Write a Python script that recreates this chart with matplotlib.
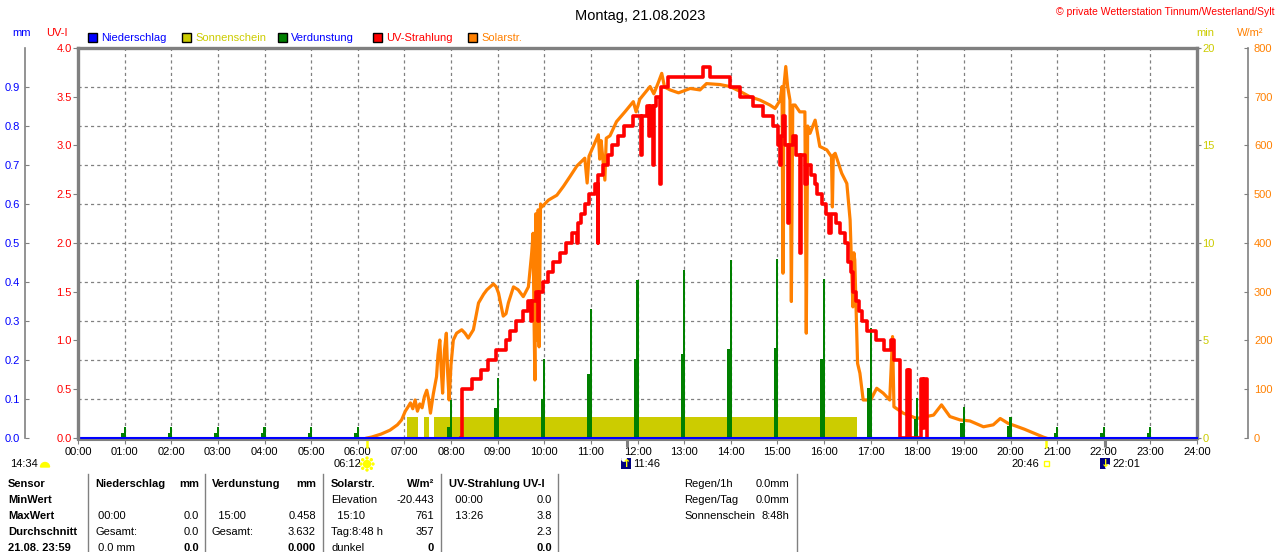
import matplotlib
matplotlib.use('Agg')
import matplotlib.pyplot as plt
from matplotlib.patches import Rectangle, Wedge, Circle
from matplotlib.transforms import Affine2D

plt.rcParams['font.family'] = ['Liberation Sans', 'DejaVu Sans']

W, H = 1280, 552

# ---------------- data ----------------
hours = list(range(25))
hour_labels = [f'{h:02d}:00' for h in hours]

mm_ticks = [0.0, 0.1, 0.2, 0.3, 0.4, 0.5, 0.6, 0.7, 0.8, 0.9]
uv_ticks = [0.0, 0.5, 1.0, 1.5, 2.0, 2.5, 3.0, 3.5, 4.0]
min_ticks = [0, 5, 10, 15, 20]
sol_ticks = [0, 100, 200, 300, 400, 500, 600, 700, 800]

# sunshine intervals (hours) and height (min)
sun_start = [7.05, 7.42, 7.64]
sun_end = [7.30, 7.53, 16.71]
sun_level = [1.08, 1.08, 1.08]

# evaporation (mm) per hour: tall thin part and wider base part
evap_hours = [1, 2, 3, 4, 5, 6, 8, 9, 10, 11, 12, 13, 14, 15, 16, 17, 18, 19, 20, 21, 22, 23]
evap_top = [0.027, 0.027, 0.027, 0.027, 0.027, 0.027, 0.097, 0.155, 0.203, 0.332, 0.405,
            0.430, 0.456, 0.458, 0.407, 0.282, 0.102, 0.079, 0.053, 0.028, 0.027, 0.027]
evap_base = [0.014, 0.014, 0.014, 0.014, 0.014, 0.014, 0.028, 0.077, 0.100, 0.164, 0.203,
             0.215, 0.228, 0.230, 0.203, 0.128, 0.050, 0.039, 0.030, 0.014, 0.014, 0.014]

# UV index (step curve)
uv_t = [8.22, 8.24, 8.46, 8.64, 8.79, 8.97, 9.17, 9.27, 9.40, 9.54, 9.65, 9.715, 9.73, 9.83,
        9.875, 9.89, 9.97, 10.08, 10.18, 10.33, 10.47, 10.59, 10.705, 10.72, 10.78, 10.88,
        10.95, 11.08, 11.145, 11.16, 11.26, 11.36, 11.46, 11.58, 11.72, 11.90, 12.075, 12.09,
        12.20, 12.255, 12.27, 12.335, 12.35, 12.40, 12.485, 12.50, 12.65, 13.41, 13.56, 13.98,
        14.20, 14.47, 14.70, 14.90, 15.01, 15.05, 15.08, 15.12, 15.17, 15.225, 15.24, 15.34,
        15.40, 15.48, 15.50, 15.60, 15.64, 15.72, 15.80, 15.86, 15.95, 16.05, 16.10, 16.14,
        16.25, 16.35, 16.45, 16.52, 16.57, 16.62, 16.68, 16.74, 16.82, 16.92, 17.12, 17.28,
        17.44, 17.50, 17.63, 17.77, 17.795, 17.82, 17.845, 18.09, 18.125, 18.15, 18.20]
uv_v = [0.0, 0.5, 0.6, 0.7, 0.8, 0.9, 1.0, 1.1, 1.2, 1.3, 1.4, 1.2, 1.4, 1.5,
        1.2, 1.5, 1.6, 1.7, 1.8, 1.9, 2.0, 2.1, 2.0, 2.2, 2.3, 2.4,
        2.5, 2.6, 2.0, 2.7, 2.8, 2.9, 3.0, 3.1, 3.2, 3.3, 2.9, 3.3,
        3.4, 3.1, 3.4, 2.8, 3.4, 3.5, 2.6, 3.6, 3.7, 3.8, 3.7, 3.6,
        3.5, 3.4, 3.3, 3.2, 3.0, 2.8, 3.1, 3.3, 3.0, 2.2, 3.0, 3.1,
        2.9, 1.9, 2.9, 2.6, 2.8, 2.7, 2.6, 2.5, 2.4, 2.3, 2.1, 2.3,
        2.2, 2.1, 2.0, 1.8, 1.7, 1.5, 1.4, 1.3, 1.2, 1.1, 1.0, 0.9,
        1.0, 0.8, 0.0, 0.7, 0.0, 0.7, 0.0, 0.6, 0.1, 0.6, 0.0]

# solar radiation (W/m2)
sol_t = [6.20, 6.30, 6.50, 6.69, 6.85, 6.94, 7.02, 7.08, 7.13, 7.18, 7.23, 7.28, 7.33, 7.38,
         7.43, 7.48, 7.52, 7.56, 7.62, 7.69, 7.72, 7.76, 7.79, 7.82, 7.86, 7.90, 7.93, 7.96,
         8.00, 8.05, 8.12, 8.23, 8.30, 8.37, 8.48, 8.59, 8.70, 8.77, 8.91, 8.97, 9.02, 9.12,
         9.18, 9.23, 9.34, 9.44, 9.55, 9.66, 9.73, 9.76, 9.78, 9.80, 9.82, 9.85, 9.87, 9.89,
         9.92, 9.95, 10.09, 10.27, 10.41, 10.55, 10.70, 10.87, 10.92, 10.96, 11.05, 11.16,
         11.19, 11.22, 11.30, 11.33, 11.41, 11.55, 11.73, 11.91, 11.97, 12.05, 12.27, 12.35,
         12.45, 12.52, 12.58, 12.70, 12.88, 13.13, 13.34, 13.48, 13.77, 13.98, 14.20, 14.41,
         14.63, 14.84, 14.95, 15.06, 15.10, 15.12, 15.14, 15.18, 15.22, 15.27, 15.30, 15.33,
         15.38, 15.48, 15.59, 15.62, 15.65, 15.70, 15.81, 15.91, 16.06, 16.16, 16.18, 16.20,
         16.24, 16.38, 16.49, 16.56, 16.62, 16.64, 16.66, 16.72, 16.77, 16.84, 17.00, 17.13,
         17.27, 17.41, 17.47, 17.50, 17.70, 17.99, 18.20, 18.35, 18.52, 18.70, 18.92, 19.13,
         19.42, 19.63, 19.78, 19.95, 20.10, 20.30, 20.50, 20.70, 20.76]
sol_v = [0, 2, 8, 16, 27, 37, 55, 64, 72, 60, 78, 55, 70, 62,
         85, 98, 80, 51, 90, 126, 170, 201, 140, 92, 180, 215, 130, 78,
         150, 201, 215, 222, 215, 205, 222, 277, 295, 304, 316, 310, 297, 250,
         255, 277, 310, 304, 290, 310, 379, 420, 250, 119, 460, 200, 468, 187,
         480, 474, 488, 498, 516, 536, 558, 574, 523, 578, 598, 622,
         572, 610, 529, 615, 620, 649, 669, 690, 669, 695, 721, 706,
         730, 748, 720, 714, 708, 717, 714, 727, 725, 721, 711, 700,
         693, 683, 676, 693, 721, 338, 721, 762, 721, 693, 280, 683,
         683, 669, 669, 215, 640, 625, 652, 598, 591, 577, 474, 580,
         584, 543, 522, 447, 269, 380, 365, 153, 133, 78, 78, 102,
         92, 78, 208, 64, 51, 40, 44, 47, 68, 44, 37, 35,
         23, 27, 40, 30, 25, 18, 10, 2, 0]

sunrise, sunset = 6.20, 20.767
moonrise, moonset = 11.767, 22.017

GREY = '#808080'
BLUE = '#0000ff'
RED = '#ff0000'
ORANGE = '#ff8000'
YELLOW = '#cccc00'
GREEN = '#008000'

fig = plt.figure(figsize=(W / 100, H / 100), dpi=100)
pix = Affine2D().scale(1 / W, -1 / H).translate(0, 1) + fig.transFigure

ax = fig.add_axes([78 / W, 1 - 438 / H, (1197 - 78) / W, (438 - 48) / H])
ax_min = ax.twinx()
ax_sol = ax.twinx()
ax_ev = ax.twinx()
ax_uv = ax.twinx()
for z, a in enumerate([ax, ax_min, ax_sol, ax_ev, ax_uv]):
    a.set_zorder(z)
    a.set_xlim(0, 24)
    for s in a.spines.values():
        s.set_visible(False)

# base axes: mm scale, grid, time axis, frame
ax.set_ylim(0, 1)
ax.set_yticks(mm_ticks)
ax.set_yticklabels([f'{v:.1f}' for v in mm_ticks])
ax.set_xticks(hours)
ax.set_xticklabels(hour_labels)
ax.grid(True, color=GREY, linestyle=(0, (2.5, 2.5)), lw=0.9)
ax.spines['top'].set_visible(True)
ax.spines['top'].set_color(GREY)
ax.spines['top'].set_linewidth(2.4)
ax.spines['bottom'].set_visible(True)
ax.spines['bottom'].set_color(GREY)
ax.spines['bottom'].set_linewidth(1.5)
ax.spines['bottom'].set_position(('outward', 1.2))
ax.spines['left'].set_visible(True)
ax.spines['left'].set_color(GREY)
ax.spines['left'].set_linewidth(1.2)
ax.spines['left'].set_position(('outward', 38))
ax.tick_params(axis='y', direction='in', length=3, color=GREY, labelcolor=BLUE,
               labelsize=8, pad=4)
ax.tick_params(axis='x', direction='out', length=3, color=GREY, labelcolor='black',
               labelsize=8, pad=2)

# sunshine (min)
ax_min.set_ylim(0, 20)
ax_min.set_yticks(min_ticks)
ax_min.bar(sun_start, sun_level, width=[e - s for s, e in zip(sun_start, sun_end)],
           align='edge', color=YELLOW, lw=0)
ax_min.spines['right'].set_visible(True)
ax_min.spines['right'].set_color(GREY)
ax_min.spines['right'].set_linewidth(2.4)
ax_min.tick_params(axis='y', direction='out', length=3, color=GREY, labelcolor=YELLOW,
                   labelsize=8, pad=1)

# solar radiation
ax_sol.set_ylim(0, 800)
ax_sol.set_yticks(sol_ticks)
ax_sol.plot(sol_t, sol_v, color=ORANGE, lw=2.3)
ax_sol.spines['right'].set_visible(True)
ax_sol.spines['right'].set_color(GREY)
ax_sol.spines['right'].set_linewidth(1.2)
ax_sol.spines['right'].set_position(('outward', 37))
ax_sol.tick_params(axis='y', direction='in', length=3, color=GREY, labelcolor=ORANGE,
                   labelsize=8, pad=4)

# evaporation bars
ax_ev.set_ylim(0, 1)
ax_ev.set_yticks([])
ax_ev.bar([h - 0.035 for h in evap_hours], evap_base, width=0.085, color=GREEN, lw=0)
ax_ev.bar(evap_hours, evap_top, width=0.045, color=GREEN, lw=0)

# UV index
ax_uv.set_ylim(0, 4)
ax_uv.set_yticks(uv_ticks)
ax_uv.yaxis.tick_left()
ax_uv.plot(uv_t, uv_v, drawstyle='steps-post', color=RED, lw=2.6)
ax_uv.axhline(0, color=BLUE, lw=1.5, clip_on=False)
ax_uv.spines['left'].set_visible(True)
ax_uv.spines['left'].set_color(GREY)
ax_uv.spines['left'].set_linewidth(2.4)
ax_uv.tick_params(axis='y', direction='out', length=3.5, color=GREY, labelcolor=RED,
                  labelsize=8, pad=1)

# sun / moon markers below the time axis
xt = ax.get_xaxis_transform()
ax.vlines([sunrise, sunset], 0, -0.026, transform=xt, color='#ffff00', lw=1.8, clip_on=False)
ax.vlines([moonrise, moonset], 0, -0.024, transform=xt, color=GREY, lw=2.2, clip_on=False)

# ---------------- texts ----------------
def txt(x, y, s, **kw):
    kw.setdefault('size', 8)
    kw.setdefault('va', 'center')
    fig.text(x, y, s, transform=pix, **kw)

txt(640, 16, 'Montag, 21.08.2023', size=10.5, ha='center')
txt(1275, 12, '\u00a9 private Wetterstation Tinnum/Westerland/Sylt', size=7.5, ha='right', color=RED)
txt(22, 33, 'mm', ha='center', color=BLUE)
txt(57, 33, 'UV-I', ha='center', color=RED)
txt(1205, 33, 'min', ha='center', color=YELLOW)
txt(1250, 33, 'W/m\u00b2', ha='center', color=ORANGE)

legend_names = ['Niederschlag', 'Sonnenschein', 'Verdunstung', 'UV-Strahlung', 'Solarstr.']
legend_fill = [BLUE, YELLOW, GREEN, RED, ORANGE]
legend_text = [BLUE, YELLOW, BLUE, RED, ORANGE]
legend_x = [88, 182, 278, 373, 468]
for lx, name, fc, tc in zip(legend_x, legend_names, legend_fill, legend_text):
    fig.add_artist(Rectangle((lx, 42), 9, -9, transform=pix, facecolor=fc,
                             edgecolor='black', lw=1))
    txt(lx + 13, 38, name, color=tc)

# sun and moon info row
txt(10, 464, '14:34')
fig.add_artist(Wedge((45, 467), 4.5, 180, 360, transform=pix, color='#ffff00'))
txt(361, 464, '06:12', ha='right')
fig.add_artist(Circle((367, 464), 3.5, transform=pix, color='#ffff00'))
for dx, dy in [(0, -6), (0, 6), (-6, 0), (6, 0), (-4.3, -4.3), (4.3, 4.3), (-4.3, 4.3), (4.3, -4.3)]:
    fig.add_artist(Circle((367 + dx, 464 + dy), 1.0, transform=pix, color='#ffff00'))
txt(1039, 464, '20:46', ha='right')
fig.add_artist(Rectangle((1044, 466), 5, -5, transform=pix, facecolor='none',
                         edgecolor='#ffff00', lw=1))
for mx, arrow, tx, label, cy in [(621, '\u2191', 633, '11:46', 459), (1100, '\u2193', 1112, '22:01', 467)]:
    fig.add_artist(Rectangle((mx, 469), 10, -11, transform=pix, facecolor='#000080', lw=0))
    fig.add_artist(Circle((mx + 3 if arrow == '\u2191' else mx + 8, cy), 2.2, transform=pix, color='white'))
    txt(mx + 6, 464, arrow, color='#ffff00', size=8, ha='center', weight='bold',
        family=['DejaVu Sans'])
    txt(tx, 464, label)

# ---------------- table ----------------
row_y = [484, 500, 516, 532, 548]
sep_x = [88, 205, 323, 441, 558, 797]
for sx in sep_x:
    fig.add_artist(plt.Line2D([sx, sx], [474, 552], transform=pix, color=GREY, lw=1))

sensor_rows = ['Sensor', 'MinWert', 'MaxWert', 'Durchschnitt', '21.08. 23:59']
for y, s in zip(row_y, sensor_rows):
    txt(8, y, s, weight='bold')

# (left x, right x, left texts, right texts)
table_cols = [
    (95, 199, ['Niederschlag', '', ' 00:00', 'Gesamt:', ' 0.0 mm'], ['mm', '', '0.0', '0.0', '0.0']),
    (212, 316, ['Verdunstung', '', '  15:00', 'Gesamt:', ''], ['mm', '', '0.458', '3.632', '0.000']),
    (331, 434, ['Solarstr.', 'Elevation', '  15:10', 'Tag:8:48 h', 'dunkel'], ['W/m\u00b2', '-20.443', '761', '357', '0']),
    (449, 552, ['UV-Strahlung UV-I', '  00:00', '  13:26', '', ''], ['', '0.0', '3.8', '2.3', '0.0']),
]
for lx, rx, left, right in table_cols:
    for i, (y, ls, rs) in enumerate(zip(row_y, left, right)):
        bold = 'bold' if i in (0, 4) else 'normal'
        if ls:
            txt(lx, y, ls, weight='bold' if i == 0 else 'normal')
        if rs:
            txt(rx, y, rs, ha='right', weight=bold)

extra_names = ['Regen/1h', 'Regen/Tag', 'Sonnenschein']
extra_vals = ['0.0mm', '0.0mm', '8:48h']
for y, n, v in zip(row_y, extra_names, extra_vals):
    txt(684, y, n)
    txt(789, y, v, ha='right')

fig.savefig('out.png', dpi=100)
